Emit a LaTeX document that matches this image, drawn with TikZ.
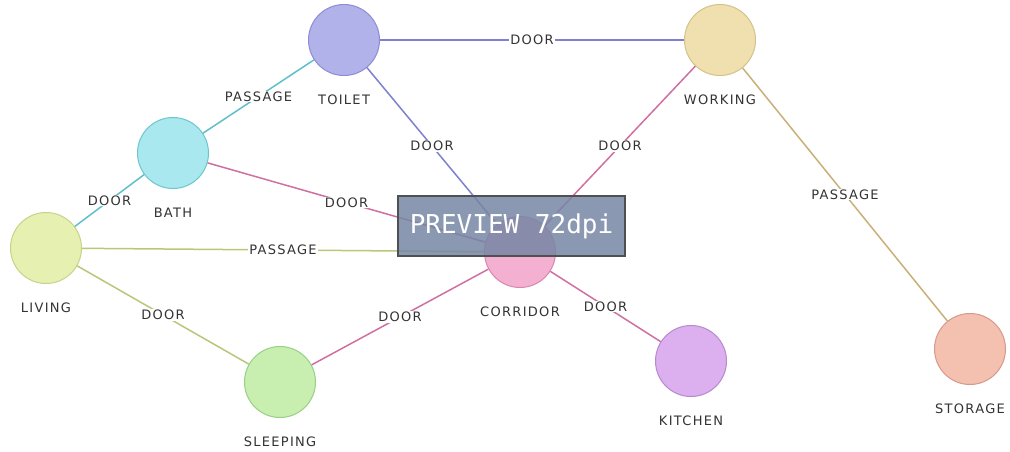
\documentclass[tikz,border=0pt]{standalone}
\usepackage{fontspec}
\newfontfamily\roomfont[LetterSpace=10]{DejaVu Sans}
\newfontfamily\previewfont{DejaVu Sans Mono}
\definecolor{toiletfill}{RGB}{178,178,235}
\definecolor{toiletedge}{RGB}{140,140,214}
\definecolor{workfill}{RGB}{240,224,176}
\definecolor{workedge}{RGB}{212,194,140}
\definecolor{bathfill}{RGB}{168,232,238}
\definecolor{bathedge}{RGB}{108,198,206}
\definecolor{livingfill}{RGB}{230,240,176}
\definecolor{livingedge}{RGB}{196,212,138}
\definecolor{corrfill}{RGB}{244,176,208}
\definecolor{corredge}{RGB}{216,136,176}
\definecolor{sleepfill}{RGB}{200,238,176}
\definecolor{sleepedge}{RGB}{152,208,136}
\definecolor{kitchfill}{RGB}{220,176,238}
\definecolor{kitchedge}{RGB}{184,136,208}
\definecolor{storefill}{RGB}{244,192,176}
\definecolor{storeedge}{RGB}{216,152,138}
\definecolor{blueline}{RGB}{128,128,208}
\definecolor{tealline}{RGB}{96,192,200}
\definecolor{pinkline}{RGB}{208,112,160}
\definecolor{oliveline}{RGB}{184,200,120}
\definecolor{tanline}{RGB}{200,176,120}
\definecolor{labelgray}{RGB}{51,51,51}
\definecolor{previewblue}{RGB}{118,134,164}
\definecolor{previewedge}{RGB}{80,80,80}

\begin{document}
\begin{tikzpicture}[x=1pt,y=-1pt,
    room/.style={circle,line width=1pt,minimum size=71pt,inner sep=0pt},
    roomname/.style={font=\roomfont\fontsize{13}{13}\selectfont,text=labelgray,inner sep=0pt,label distance=19pt},
    link/.style={line width=1.5pt},
    doorlabel/.style={font=\roomfont\fontsize{13}{13}\selectfont,text=labelgray,fill=white,inner sep=1pt}]
  \fill[white] (0,0) rectangle (1010,451);
  \useasboundingbox (0,0) rectangle (1010,451);

  % rooms
  \node (toilet) [room,fill=toiletfill,draw=toiletedge,label={[roomname]below:TOILET}] at (344,40) {};
  \node (working) [room,fill=workfill,draw=workedge,label={[roomname]below:WORKING}] at (720,40) {};
  \node (bath) [room,fill=bathfill,draw=bathedge,label={[roomname]below:BATH}] at (173,153) {};
  \node (living) [room,fill=livingfill,draw=livingedge,label={[roomname]below:LIVING}] at (46,248) {};
  \node (corridor) [room,fill=corrfill,draw=corredge,label={[roomname]below:CORRIDOR}] at (520,252) {};
  \node (sleeping) [room,fill=sleepfill,draw=sleepedge,label={[roomname]below:SLEEPING}] at (280,382) {};
  \node (kitchen) [room,fill=kitchfill,draw=kitchedge,label={[roomname]below:KITCHEN}] at (691,361) {};
  \node (storage) [room,fill=storefill,draw=storeedge,label={[roomname]below:STORAGE}] at (970,349) {};

  % connections
  \draw[link,blueline] (toilet) -- node[doorlabel] {DOOR} (working);
  \draw[link,tealline] (toilet) -- node[doorlabel] {PASSAGE} (bath);
  \draw[link,blueline] (toilet) -- node[doorlabel] {DOOR} (corridor);
  \draw[link,pinkline] (working) -- node[doorlabel] {DOOR} (corridor);
  \draw[link,tanline] (working) -- node[doorlabel] {PASSAGE} (storage);
  \draw[link,tealline] (bath) -- node[doorlabel] {DOOR} (living);
  \draw[link,pinkline] (bath) -- node[doorlabel] {DOOR} (corridor);
  \draw[link,oliveline] (living) -- node[doorlabel] {PASSAGE} (corridor);
  \draw[link,oliveline] (living) -- node[doorlabel] {DOOR} (sleeping);
  \draw[link,pinkline] (sleeping) -- node[doorlabel] {DOOR} (corridor);
  \draw[link,pinkline] (corridor) -- node[doorlabel] {DOOR} (kitchen);

  % preview badge
  \node (preview) [fill=previewblue,fill opacity=0.85,text opacity=1,draw=previewedge,
    line width=1.5pt,minimum width=227pt,minimum height=60pt,
    font=\previewfont\fontsize{26}{26}\selectfont,text=white] at (511.5,226) {PREVIEW 72dpi};
\end{tikzpicture}
\end{document}
